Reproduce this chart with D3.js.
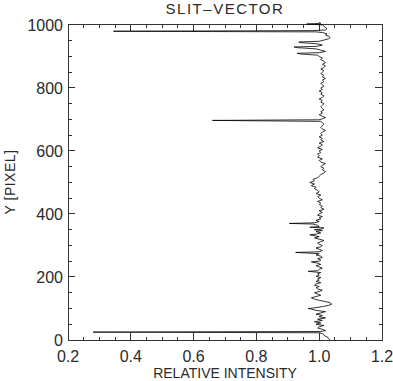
<!DOCTYPE html>
<html>
<head>
<meta charset="utf-8">
<script src="https://cdn.jsdelivr.net/npm/d3@7"></script>
<style>
  body { margin: 0; background: #fff; }
  text { font-family: "Liberation Sans", Arial, sans-serif; fill: #2a2a2a; }
</style>
</head>
<body>
<script>
// slit profile: pixel row and relative intensity
const pixelY = [
  0, 4, 8, 12, 16, 20, 23, 25, 27, 30, 34, 38, 42, 46, 50, 54, 58, 62, 66, 70,
  74, 78, 82, 86, 90, 94, 98, 100, 102, 106, 110, 114, 118, 122, 126, 130, 134, 138, 142, 146,
  150, 154, 158, 162, 166, 170, 174, 178, 182, 186, 190, 194, 198, 202, 206, 210, 214, 218, 220, 224,
  228, 232, 236, 240, 244, 248, 250, 254, 258, 262, 266, 270, 274, 278, 280, 284, 288, 292, 296, 300,
  304, 308, 312, 316, 320, 324, 328, 332, 334, 336, 340, 344, 348, 350, 352, 356, 358, 360, 364, 368,
  370, 372, 376, 380, 384, 388, 392, 396, 400, 405, 410, 415, 420, 425, 430, 435, 440, 445, 450, 455,
  460, 465, 470, 475, 480, 485, 490, 495, 500, 505, 510, 515, 520, 525, 530, 535, 540, 545, 550, 555,
  560, 565, 570, 575, 580, 585, 590, 595, 600, 605, 610, 615, 620, 625, 630, 635, 640, 645, 650, 655,
  660, 665, 670, 675, 680, 685, 690, 694, 697, 699, 702, 706, 710, 715, 720, 725, 730, 735, 740, 745,
  750, 755, 760, 765, 770, 775, 780, 785, 790, 795, 800, 805, 810, 815, 820, 825, 830, 835, 840, 845,
  850, 855, 860, 865, 870, 875, 880, 885, 890, 895, 900, 904, 908, 910, 912, 916, 920, 924, 928, 930,
  932, 936, 940, 944, 946, 948, 952, 956, 960, 964, 968, 972, 976, 978, 980, 982, 984, 988, 992, 996,
  1000, 1003, 1005, 1008
]
const relIntensity = [
  1.035, 1.03, 1.028, 1.02, 1.015, 1.01, 1.0, 0.28, 1.005, 1.02, 1.01, 0.995, 1.0, 1.015, 0.99, 1.005, 0.985, 1.01, 0.995, 1.02,
  1.0, 1.01, 0.99, 1.005, 1.02, 0.99, 0.975, 0.965, 0.985, 1.01, 1.03, 1.04, 1.035, 1.02, 1.0, 0.985, 0.975, 0.99, 1.005, 0.995,
  0.985, 1.0, 1.01, 0.995, 0.99, 1.0, 0.985, 0.99, 1.005, 0.99, 1.0, 0.995, 1.005, 0.99, 1.0, 0.995, 1.005, 0.965, 0.995, 1.0,
  1.01, 1.0, 0.99, 1.005, 0.995, 0.975, 1.0, 1.005, 0.995, 1.01, 1.005, 0.99, 1.0, 0.925, 1.0, 1.01, 1.0, 0.99, 1.005, 1.01,
  1.0, 0.995, 1.005, 1.015, 1.0, 0.985, 1.0, 0.98, 0.97, 0.99, 1.005, 0.99, 1.01, 0.985, 1.005, 1.015, 0.97, 1.0, 0.995, 0.98,
  0.905, 0.985, 1.0, 0.99, 1.005, 1.0, 1.01, 0.995, 1.0, 1.01, 1.0, 1.015, 1.005, 1.01, 1.0, 1.005, 0.995, 1.01, 1.0, 0.995,
  1.005, 0.99, 1.0, 0.995, 0.985, 0.99, 0.975, 0.985, 0.97, 0.985, 0.98, 0.995, 1.0, 1.005, 1.015, 1.02, 1.01, 1.015, 1.005, 1.01,
  1.02, 1.005, 1.0, 1.01, 0.995, 1.0, 0.995, 1.005, 1.0, 1.01, 0.995, 1.005, 1.01, 1.0, 1.015, 1.005, 1.01, 1.0, 1.01, 1.005,
  1.01, 1.02, 1.01, 1.005, 1.01, 1.015, 1.01, 1.005, 0.66, 1.0, 1.01, 1.02, 1.01, 1.0, 1.01, 1.005, 1.015, 1.01, 1.005, 1.01,
  1.015, 1.005, 1.01, 1.0, 1.01, 1.015, 1.005, 1.01, 1.0, 1.01, 1.005, 1.015, 1.01, 1.005, 1.015, 1.01, 1.02, 1.01, 1.015, 1.005,
  1.01, 1.015, 1.005, 1.015, 1.02, 1.01, 1.02, 1.015, 1.005, 1.01, 1.0, 0.995, 0.94, 0.93, 1.0, 1.02, 1.005, 0.99, 0.93, 0.92,
  0.99, 1.01, 0.995, 0.94, 0.935, 1.0, 1.015, 1.03, 1.035, 1.03, 1.02, 1.025, 1.01, 0.99, 0.345, 0.98, 1.02, 1.025, 1.02, 1.015,
  1.01, 0.96, 1.005, 1.0
]
const xTicks = [0.2, 0.4, 0.6, 0.8, 1.0, 1.2]
const yTicks = [0, 200, 400, 600, 800, 1000]

const W = 393, H = 381
const mLeft = 68, mRight = 382, mTop = 24, mBottom = 340

const x = d3.scaleLinear().domain([0.2, 1.2]).range([mLeft, mRight])
const y = d3.scaleLinear().domain([0, 1003]).range([mBottom, mTop])

const svg = d3.select('body').append('svg')
  .attr('width', W).attr('height', H)

const frame = svg.append('g')
  .attr('stroke', '#333').attr('stroke-width', 1).attr('fill', 'none')
  .attr('shape-rendering', 'crispEdges')

frame.append('rect')
  .attr('x', mLeft).attr('y', mTop)
  .attr('width', mRight - mLeft).attr('height', mBottom - mTop)

// ticks on all four sides, pointing inward
const xMinor = d3.range(0.25, 1.2, 0.05).filter(v => Math.abs(v * 5 - Math.round(v * 5)) > 1e-6)
const yMinor = d3.range(50, 1001, 50).filter(v => v % 200 != 0)

xTicks.forEach(v => {
  frame.append('line').attr('x1', x(v)).attr('x2', x(v)).attr('y1', mBottom).attr('y2', mBottom - 7)
  frame.append('line').attr('x1', x(v)).attr('x2', x(v)).attr('y1', mTop).attr('y2', mTop + 7)
})
xMinor.forEach(v => {
  frame.append('line').attr('x1', x(v)).attr('x2', x(v)).attr('y1', mBottom).attr('y2', mBottom - 3.5)
  frame.append('line').attr('x1', x(v)).attr('x2', x(v)).attr('y1', mTop).attr('y2', mTop + 3.5)
})
yTicks.forEach(v => {
  frame.append('line').attr('x1', mLeft).attr('x2', mLeft + 7).attr('y1', y(v)).attr('y2', y(v))
  frame.append('line').attr('x1', mRight).attr('x2', mRight - 7).attr('y1', y(v)).attr('y2', y(v))
})
yMinor.forEach(v => {
  frame.append('line').attr('x1', mLeft).attr('x2', mLeft + 3.5).attr('y1', y(v)).attr('y2', y(v))
  frame.append('line').attr('x1', mRight).attr('x2', mRight - 3.5).attr('y1', y(v)).attr('y2', y(v))
})

// tick labels
svg.append('g').selectAll('text')
  .data(xTicks).join('text')
  .attr('x', d => x(d)).attr('y', 362)
  .attr('text-anchor', 'middle').attr('font-size', 16)
  .text(d => d.toFixed(1))

svg.append('g').selectAll('text')
  .data(yTicks).join('text')
  .attr('x', 63).attr('y', d => y(d) + 5.8)
  .attr('text-anchor', 'end').attr('font-size', 16)
  .text(d => d)

// profile
const line = d3.line()
  .x((d, i) => x(relIntensity[i]))
  .y(d => y(d))

svg.append('path')
  .datum(pixelY)
  .attr('d', line)
  .attr('fill', 'none')
  .attr('stroke', '#000')
  .attr('stroke-width', 0.8)

// titles
svg.append('text')
  .attr('x', (mLeft + mRight) / 2).attr('y', 14)
  .attr('text-anchor', 'middle').attr('font-size', 15)
  .attr('letter-spacing', 1.5)
  .text('SLIT–VECTOR')

svg.append('text')
  .attr('x', (mLeft + mRight) / 2).attr('y', 378)
  .attr('text-anchor', 'middle').attr('font-size', 14)
  .text('RELATIVE INTENSITY')

svg.append('text')
  .attr('transform', `translate(15,${(mTop + mBottom) / 2}) rotate(-90)`)
  .attr('text-anchor', 'middle').attr('font-size', 14)
  .attr('letter-spacing', 0.5)
  .text('Y [PIXEL]')
</script>
</body>
</html>
